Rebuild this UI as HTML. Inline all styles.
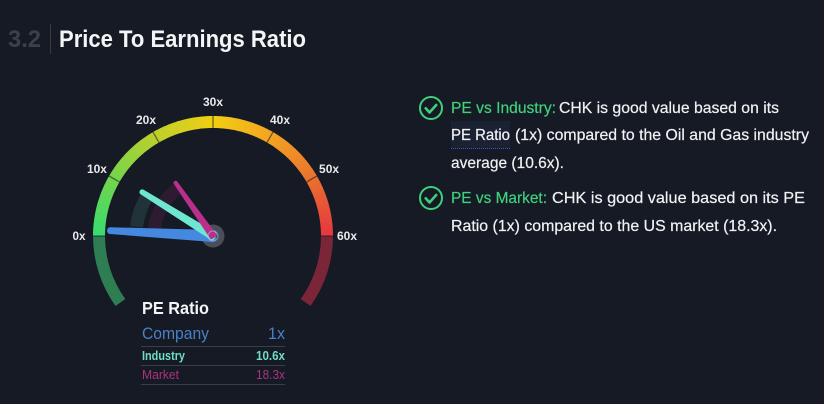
<!DOCTYPE html>
<html lang="en">
<head>
<meta charset="utf-8">
<title>Price To Earnings Ratio</title>
<style>
html,body{margin:0;padding:0;background:#151a24;width:824px;height:404px;overflow:hidden}
svg{display:block;font-family:"Liberation Sans",sans-serif}
.body-text{font-size:15.8px;fill:#f1f2f4;stroke:#f1f2f4;stroke-width:.2px}
.green{font-size:15.8px;fill:#3fd07c;stroke:#3fd07c;stroke-width:.2px}
.tick{font-size:12px;font-weight:bold;fill:#e9eaec}
</style>
</head>
<body>
<svg id="root" xmlns="http://www.w3.org/2000/svg" width="824" height="404" viewBox="0 0 824 404">
  <rect width="824" height="404" fill="#151a24"/>
  <text x="8" y="47" font-size="24" font-weight="bold" fill="#3c404a" textLength="33" lengthAdjust="spacingAndGlyphs">3.2</text>
  <rect x="50" y="24" width="1" height="30" fill="#383c46"/>
  <text x="59" y="47" font-size="24" font-weight="bold" fill="#f4f5f6" textLength="247" lengthAdjust="spacingAndGlyphs">Price To Earnings Ratio</text>

  <g id="gauge"></g>

  <text x="142" y="314" font-size="17.5" font-weight="bold" fill="#f4f5f6" textLength="67" lengthAdjust="spacingAndGlyphs">PE Ratio</text>
  <g id="legend"></g>

  <g fill="none" stroke="#3fd07c">
    <circle cx="431" cy="108" r="11" stroke-width="2"/>
    <path d="M425.7 108.3l3.8 4.2 6.7-7.5" stroke-width="2.6" stroke-linecap="round" stroke-linejoin="round"/>
  </g>
  <text class="green" x="451" y="113" textLength="105" lengthAdjust="spacingAndGlyphs">PE vs Industry:</text>
  <text class="body-text" x="559" y="113" textLength="220" lengthAdjust="spacingAndGlyphs">CHK is good value based on its</text>
  <rect x="451" y="121" width="59" height="27" fill="#1a2133"/>
  <line x1="451" y1="148.5" x2="510" y2="148.5" stroke="#4a55c8" stroke-width="1" stroke-dasharray="1 1"/>
  <text class="body-text" x="451" y="140" textLength="59" lengthAdjust="spacingAndGlyphs">PE Ratio</text>
  <text class="body-text" x="515" y="140" textLength="294" lengthAdjust="spacingAndGlyphs">(1x) compared to the Oil and Gas industry</text>
  <text class="body-text" x="451" y="168" textLength="113" lengthAdjust="spacingAndGlyphs">average (10.6x).</text>

  <g fill="none" stroke="#3fd07c">
    <circle cx="431" cy="198" r="11" stroke-width="2"/>
    <path d="M425.7 198.3l3.8 4.2 6.7-7.5" stroke-width="2.6" stroke-linecap="round" stroke-linejoin="round"/>
  </g>
  <text class="green" x="451" y="203" textLength="96" lengthAdjust="spacingAndGlyphs">PE vs Market:</text>
  <text class="body-text" x="552" y="203" textLength="253" lengthAdjust="spacingAndGlyphs">CHK is good value based on its PE</text>
  <text class="body-text" x="451" y="231" textLength="326" lengthAdjust="spacingAndGlyphs">Ratio (1x) compared to the US market (18.3x).</text>
</svg>
<script>
const seriesNames = ['Company', 'Industry', 'Market'];
const seriesValues = [1, 10.6, 18.3];
const seriesLabels = ['1x', '10.6x', '18.3x'];
const tickValues = [0, 10, 20, 30, 40, 50, 60];
const tickLabels = ['0x', '10x', '20x', '30x', '40x', '50x', '60x'];
const scaleColors = ['#37dc70', '#74d54c', '#bcd02c', '#f2cf12', '#f3a422', '#e9722f', '#e7353f'];

const NS = 'http://www.w3.org/2000/svg';
const CX = 213, CY = 236, R = 114, BAND = 12;
const domainMax = 60;
const gauge = document.getElementById('gauge');
const legend = document.getElementById('legend');

/* axis: value -> angle (radians), 0 at the left, domainMax at the right */
function angleOf(v) { return Math.PI - (v / domainMax) * Math.PI; }
function px(v, r) { return CX + r * Math.cos(angleOf(v)); }
function py(v, r) { return CY - r * Math.sin(angleOf(v)); }
function arcPath(v0, v1, r) {
  return 'M' + px(v0, r) + ' ' + py(v0, r) + 'A' + r + ' ' + r + ' 0 0 ' + (v1 > v0 ? 1 : 0) + ' ' + px(v1, r) + ' ' + py(v1, r);
}
function hex(c) { return [1, 3, 5].map(function (i) { return parseInt(c.substr(i, 2), 16); }); }
function colorAt(v) {
  const step = domainMax / (scaleColors.length - 1);
  const i = Math.min(Math.floor(v / step), scaleColors.length - 2);
  const t = v / step - i;
  const a = hex(scaleColors[i]), b = hex(scaleColors[i + 1]);
  return 'rgb(' + a.map(function (x, k) { return Math.round(x + (b[k] - x) * t); }).join(',') + ')';
}
function arcEl(parent, d, color, width, cap) {
  const el = document.createElementNS(NS, 'path');
  
  
  el.setAttribute('d', d);
  el.setAttribute('fill', 'none');
  el.setAttribute('stroke', color);
  el.setAttribute('stroke-width', width);
  el.setAttribute('stroke-linecap', cap);
  parent.appendChild(el);
  return el;
}

/* low and high zones that extend below the gauge */
arcEl(gauge, arcPath(-11.9, 0, R), '#2e7d53', BAND, 'butt');
arcEl(gauge, arcPath(domainMax, domainMax + 11.9, R), '#7b2638', BAND, 'butt');

/* coloured scale */
const slice = 0.5;
for (let v = 0; v < domainMax; v += slice) {
  arcEl(gauge, arcPath(v, Math.min(v + slice + 0.08, domainMax), R), colorAt(v + slice / 2), BAND, 'butt');
}

/* tick marks and labels */
tickValues.forEach(function (v, i) {
  const t = document.createElementNS(NS, 'line');
  
  
  t.setAttribute('x1', px(v, R - BAND / 2));
  t.setAttribute('y1', py(v, R - BAND / 2));
  t.setAttribute('x2', px(v, R + BAND / 2));
  t.setAttribute('y2', py(v, R + BAND / 2));
  t.setAttribute('stroke', '#151a24');
  t.setAttribute('stroke-opacity', '0.55');
  t.setAttribute('stroke-width', '1.4');
  gauge.appendChild(t);

  const label = tickLabels[i];
  const w = label.length > 2 ? 20 : 13;
  const l = document.createElementNS(NS, 'text');
  
  
  l.setAttribute('class', 'tick');
  l.setAttribute('x', px(v, 134) - w / 2);
  l.setAttribute('y', py(v, 134) + 4);
  l.setAttribute('textLength', w);
  l.setAttribute('lengthAdjust', 'spacingAndGlyphs');
  l.textContent = label;
  gauge.appendChild(l);
});

/* faint trailing arcs for industry and market */
const shadowColors = [null, '#1f3339', '#2c1b31'];
const shadowRadii = [null, 77, 59];
const needleColors = ['#4488e0', '#6fe6d2', '#b8308c'];
const needleLengths = [106, 86, 67];
const needleStroke = [6, 5, 4];
const needleTip = [0.4, 0.2, 0.1];
const needleBase = [3, 2, 1.8];

[1, 2].forEach(function (i) {
  arcEl(gauge, arcPath(2.3, seriesValues[i], shadowRadii[i]), shadowColors[i], 13, 'butt');
});

/* hub */
const hub = document.createElementNS(NS, 'circle');


hub.setAttribute('cx', CX);
hub.setAttribute('cy', CY);
hub.setAttribute('r', 11.5);
hub.setAttribute('fill', '#4a4e5a');
gauge.appendChild(hub);

/* needles */
seriesValues.forEach(function (v, i) {
  const a = angleOf(v);
  const nx = Math.sin(a), ny = Math.cos(a);
  const len = needleLengths[i] - needleStroke[i] / 2, tw = needleTip[i], bw = needleBase[i];
  const tx = CX + len * Math.cos(a), ty = CY - len * Math.sin(a);
  const pts = [
    [tx + nx * tw, ty + ny * tw],
    [tx - nx * tw, ty - ny * tw],
    [CX - nx * bw, CY - ny * bw],
    [CX + nx * bw, CY + ny * bw]
  ].map(function (p) { return p.join(','); }).join(' ');
  const n = document.createElementNS(NS, 'polygon');
  
  
  n.setAttribute('points', pts);
  n.setAttribute('fill', needleColors[i]);
  n.setAttribute('stroke', needleColors[i]);
  n.setAttribute('stroke-width', needleStroke[i]);
  n.setAttribute('stroke-linejoin', 'round');
  gauge.appendChild(n);
});

const hubRing = document.createElementNS(NS, 'circle');


hubRing.setAttribute('cx', CX);
hubRing.setAttribute('cy', CY);
hubRing.setAttribute('r', 5);
hubRing.setAttribute('fill', 'none');
hubRing.setAttribute('stroke', '#a9c8ee');
hubRing.setAttribute('stroke-opacity', '0.6');
hubRing.setAttribute('stroke-width', '1');
gauge.appendChild(hubRing);

/* legend rows */
const rowBaselines = [339, 360, 379];
const ruleY = [346, 365, 384];
const rowSizes = [17, 12.5, 12.5];
const rowWeights = ['normal', 'bold', 'normal'];
const rowColors = ['#4a80c8', '#6fdcc4', '#ad337d'];
const nameWidths = [67, 43, 37];
const valueWidths = [17, 29, 29];
seriesNames.forEach(function (name, i) {
  const a = document.createElementNS(NS, 'text');
  
  
  a.setAttribute('x', 142);
  a.setAttribute('y', rowBaselines[i]);
  a.setAttribute('font-size', rowSizes[i]);
  a.setAttribute('font-weight', rowWeights[i]);
  a.setAttribute('fill', rowColors[i]);
  a.setAttribute('textLength', nameWidths[i]);
  a.setAttribute('lengthAdjust', 'spacingAndGlyphs');
  a.textContent = name;
  legend.appendChild(a);

  const b = document.createElementNS(NS, 'text');
  
  
  b.setAttribute('x', 285 - valueWidths[i]);
  b.setAttribute('y', rowBaselines[i]);
  b.setAttribute('font-size', rowSizes[i]);
  b.setAttribute('font-weight', rowWeights[i]);
  b.setAttribute('fill', rowColors[i]);
  b.setAttribute('textLength', valueWidths[i]);
  b.setAttribute('lengthAdjust', 'spacingAndGlyphs');
  b.textContent = seriesLabels[i];
  legend.appendChild(b);

  const r = document.createElementNS(NS, 'rect');
  
  
  r.setAttribute('x', 141);
  r.setAttribute('y', ruleY[i]);
  r.setAttribute('width', 144);
  r.setAttribute('height', 1);
  r.setAttribute('fill', '#3a3e49');
  legend.appendChild(r);
});
</script>
</body>
</html>
